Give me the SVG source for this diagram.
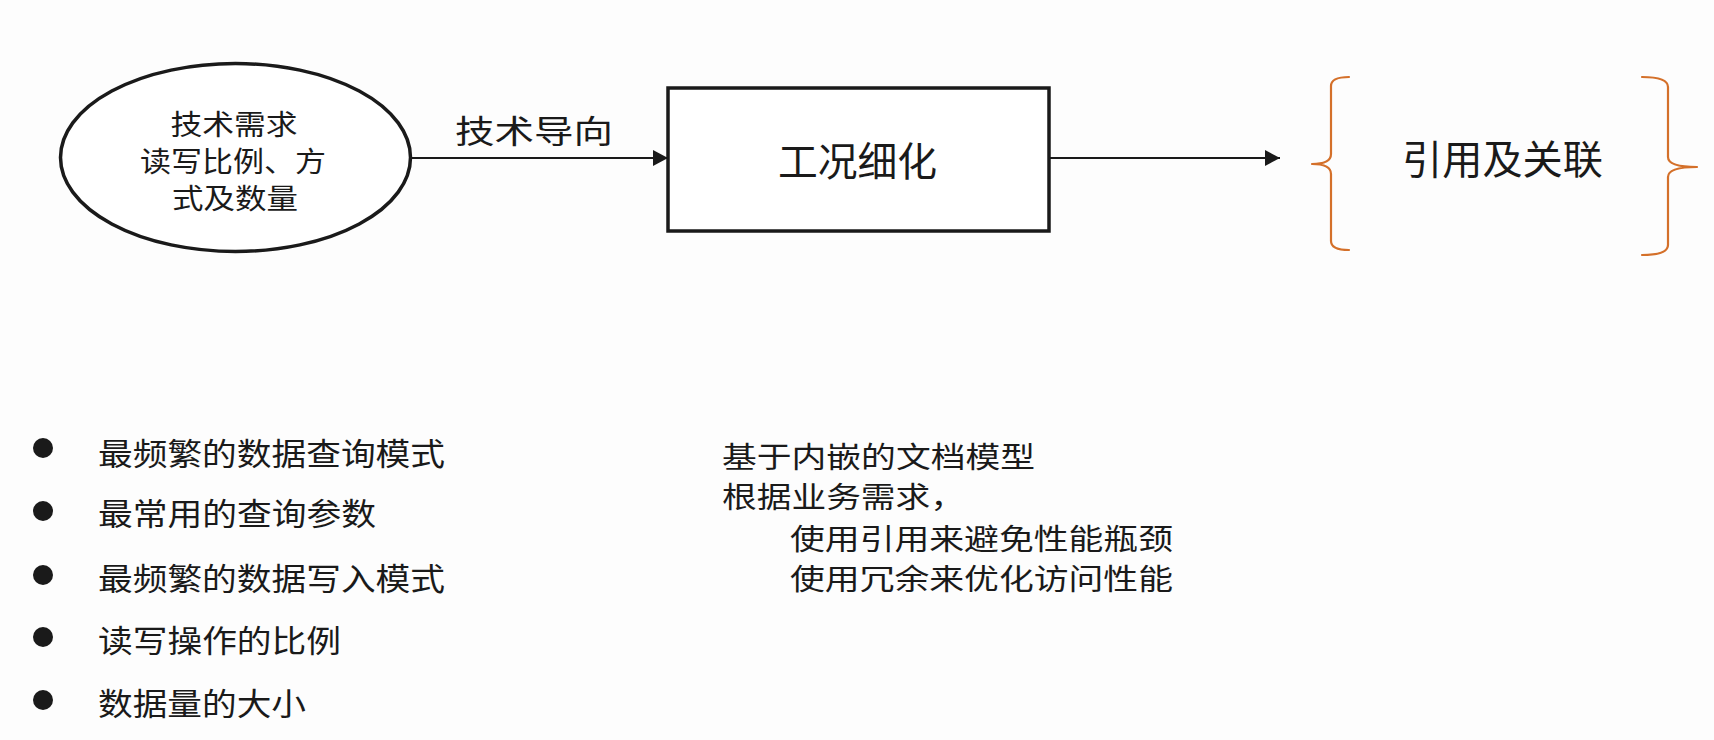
<svg xmlns="http://www.w3.org/2000/svg" width="1714" height="740" viewBox="0 0 1714 740">
  <defs>
    <marker id="arrow" markerWidth="16" markerHeight="16" refX="15" refY="8" orient="auto" markerUnits="userSpaceOnUse">
      <path d="M0,0 L15,8 L0,16 Z" fill="#1a1a1a"/>
    </marker>
    <style>
      text { font-family: "Noto Sans CJK SC", "Noto Sans", sans-serif; fill: #1a1a1a; dominant-baseline: central; }
      .shape { fill: #ffffff; stroke: #1a1a1a; stroke-width: 3.5; }
      .conn { stroke: #1a1a1a; stroke-width: 2; fill: none; }
      .brace { stroke: #D4702A; stroke-width: 2.2; fill: none; stroke-linecap: round; stroke-linejoin: round; }
      .node-sm { font-size: 28px; }
      .lbl { font-size: 32px; }
      .big { font-size: 40px; }
      .body { font-size: 31px; }
      .note { font-size: 29px; }
      .dot { fill: #1a1a1a; }
    </style>
  </defs>
  <rect x="0" y="0" width="1714" height="740" fill="#fdfdfd"/>

  <g id="connectors">
    <line class="conn" x1="411" y1="158" x2="668" y2="158" marker-end="url(#arrow)"/>
    <line class="conn" x1="1049" y1="158" x2="1280" y2="158" marker-end="url(#arrow)"/>
    <text id="label-tech" class="lbl" x="455" y="129" textLength="158" lengthAdjust="spacingAndGlyphs">技术导向</text>
  </g>

  <g id="node-requirements">
    <ellipse class="shape" cx="235.5" cy="157.5" rx="175" ry="94"/>
    <text class="node-sm" x="234" y="123" text-anchor="middle" textLength="127" lengthAdjust="spacingAndGlyphs">技术需求</text>
    <text class="node-sm" x="233" y="160" text-anchor="middle" textLength="186" lengthAdjust="spacingAndGlyphs">读写比例、方</text>
    <text class="node-sm" x="235" y="197" text-anchor="middle" textLength="126" lengthAdjust="spacingAndGlyphs">式及数量</text>
  </g>

  <g id="node-refine">
    <rect class="shape" x="668" y="88" width="381" height="143"/>
    <text class="big" x="778" y="159" textLength="159" lengthAdjust="spacingAndGlyphs">工况细化</text>
  </g>

  <g id="node-reference">
    <path class="brace" d="M1349,77 Q1331,77 1331,86 L1331,154 Q1331,164 1312,164 Q1331,164 1331,174 L1331,241 Q1331,250 1349,250"/>
    <path class="brace" d="M1642,77 Q1668,77 1668,87 L1668,157 Q1668,167 1697,167 Q1668,167 1668,177 L1668,245 Q1668,255 1642,255"/>
    <text class="big" x="1402" y="157" textLength="201" lengthAdjust="spacingAndGlyphs">引用及关联</text>
  </g>

  <g id="bullet-list">
    <circle class="dot" cx="43" cy="448" r="10"/>
    <text class="body" x="98" y="451" textLength="347" lengthAdjust="spacingAndGlyphs">最频繁的数据查询模式</text>
    <circle class="dot" cx="43" cy="511" r="10"/>
    <text class="body" x="98" y="511" textLength="278" lengthAdjust="spacingAndGlyphs">最常用的查询参数</text>
    <circle class="dot" cx="43" cy="575" r="10"/>
    <text class="body" x="98" y="576" textLength="347" lengthAdjust="spacingAndGlyphs">最频繁的数据写入模式</text>
    <circle class="dot" cx="43" cy="637" r="10"/>
    <text class="body" x="98" y="638" textLength="243" lengthAdjust="spacingAndGlyphs">读写操作的比例</text>
    <circle class="dot" cx="43" cy="700" r="10"/>
    <text class="body" x="98" y="701" textLength="208" lengthAdjust="spacingAndGlyphs">数据量的大小</text>
  </g>

  <g id="notes">
    <text class="note" x="722" y="455" textLength="313" lengthAdjust="spacingAndGlyphs">基于内嵌的文档模型</text>
    <text class="note" x="722" y="495" textLength="243" lengthAdjust="spacingAndGlyphs">根据业务需求，</text>
    <text class="note" x="790" y="537" textLength="383" lengthAdjust="spacingAndGlyphs">使用引用来避免性能瓶颈</text>
    <text class="note" x="790" y="577" textLength="383" lengthAdjust="spacingAndGlyphs">使用冗余来优化访问性能</text>
  </g>
</svg>
